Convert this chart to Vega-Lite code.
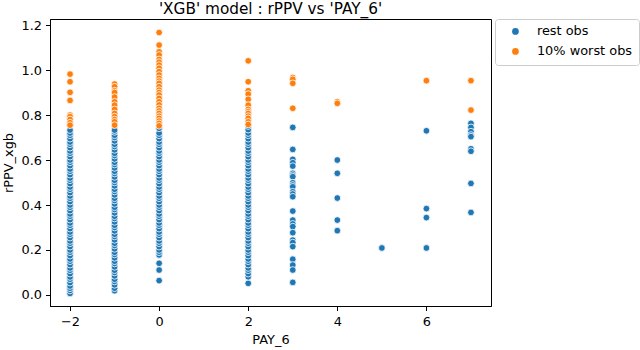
{
  "$schema": "https://vega.github.io/schema/vega-lite/v6.json",
  "autosize": {"type": "none"},
  "width": 441,
  "height": 287,
  "padding": {"left": 50, "top": 19, "right": 149, "bottom": 44},
  "background": "white",
  "title": {"text": "'XGB' model : rPPV vs 'PAY_6'", "fontSize": 15.3, "fontWeight": "normal", "font": "DejaVu Sans", "color": "black", "offset": 1, "anchor": "middle"},
  "data": {"values": [
    {"PAY_6": -2, "rPPV_xgb": 0.007, "group": "rest obs"},
    {"PAY_6": -2, "rPPV_xgb": 0.02, "group": "rest obs"},
    {"PAY_6": -2, "rPPV_xgb": 0.03, "group": "rest obs"},
    {"PAY_6": -2, "rPPV_xgb": 0.04, "group": "rest obs"},
    {"PAY_6": -2, "rPPV_xgb": 0.055, "group": "rest obs"},
    {"PAY_6": -2, "rPPV_xgb": 0.07, "group": "rest obs"},
    {"PAY_6": -2, "rPPV_xgb": 0.08, "group": "rest obs"},
    {"PAY_6": -2, "rPPV_xgb": 0.095, "group": "rest obs"},
    {"PAY_6": -2, "rPPV_xgb": 0.11, "group": "rest obs"},
    {"PAY_6": -2, "rPPV_xgb": 0.12, "group": "rest obs"},
    {"PAY_6": -2, "rPPV_xgb": 0.135, "group": "rest obs"},
    {"PAY_6": -2, "rPPV_xgb": 0.15, "group": "rest obs"},
    {"PAY_6": -2, "rPPV_xgb": 0.16, "group": "rest obs"},
    {"PAY_6": -2, "rPPV_xgb": 0.175, "group": "rest obs"},
    {"PAY_6": -2, "rPPV_xgb": 0.19, "group": "rest obs"},
    {"PAY_6": -2, "rPPV_xgb": 0.2, "group": "rest obs"},
    {"PAY_6": -2, "rPPV_xgb": 0.215, "group": "rest obs"},
    {"PAY_6": -2, "rPPV_xgb": 0.23, "group": "rest obs"},
    {"PAY_6": -2, "rPPV_xgb": 0.24, "group": "rest obs"},
    {"PAY_6": -2, "rPPV_xgb": 0.255, "group": "rest obs"},
    {"PAY_6": -2, "rPPV_xgb": 0.27, "group": "rest obs"},
    {"PAY_6": -2, "rPPV_xgb": 0.28, "group": "rest obs"},
    {"PAY_6": -2, "rPPV_xgb": 0.295, "group": "rest obs"},
    {"PAY_6": -2, "rPPV_xgb": 0.31, "group": "rest obs"},
    {"PAY_6": -2, "rPPV_xgb": 0.32, "group": "rest obs"},
    {"PAY_6": -2, "rPPV_xgb": 0.335, "group": "rest obs"},
    {"PAY_6": -2, "rPPV_xgb": 0.35, "group": "rest obs"},
    {"PAY_6": -2, "rPPV_xgb": 0.36, "group": "rest obs"},
    {"PAY_6": -2, "rPPV_xgb": 0.375, "group": "rest obs"},
    {"PAY_6": -2, "rPPV_xgb": 0.39, "group": "rest obs"},
    {"PAY_6": -2, "rPPV_xgb": 0.4, "group": "rest obs"},
    {"PAY_6": -2, "rPPV_xgb": 0.415, "group": "rest obs"},
    {"PAY_6": -2, "rPPV_xgb": 0.43, "group": "rest obs"},
    {"PAY_6": -2, "rPPV_xgb": 0.44, "group": "rest obs"},
    {"PAY_6": -2, "rPPV_xgb": 0.455, "group": "rest obs"},
    {"PAY_6": -2, "rPPV_xgb": 0.47, "group": "rest obs"},
    {"PAY_6": -2, "rPPV_xgb": 0.48, "group": "rest obs"},
    {"PAY_6": -2, "rPPV_xgb": 0.495, "group": "rest obs"},
    {"PAY_6": -2, "rPPV_xgb": 0.51, "group": "rest obs"},
    {"PAY_6": -2, "rPPV_xgb": 0.52, "group": "rest obs"},
    {"PAY_6": -2, "rPPV_xgb": 0.535, "group": "rest obs"},
    {"PAY_6": -2, "rPPV_xgb": 0.55, "group": "rest obs"},
    {"PAY_6": -2, "rPPV_xgb": 0.56, "group": "rest obs"},
    {"PAY_6": -2, "rPPV_xgb": 0.575, "group": "rest obs"},
    {"PAY_6": -2, "rPPV_xgb": 0.59, "group": "rest obs"},
    {"PAY_6": -2, "rPPV_xgb": 0.6, "group": "rest obs"},
    {"PAY_6": -2, "rPPV_xgb": 0.615, "group": "rest obs"},
    {"PAY_6": -2, "rPPV_xgb": 0.63, "group": "rest obs"},
    {"PAY_6": -2, "rPPV_xgb": 0.64, "group": "rest obs"},
    {"PAY_6": -2, "rPPV_xgb": 0.655, "group": "rest obs"},
    {"PAY_6": -2, "rPPV_xgb": 0.67, "group": "rest obs"},
    {"PAY_6": -2, "rPPV_xgb": 0.68, "group": "rest obs"},
    {"PAY_6": -2, "rPPV_xgb": 0.695, "group": "rest obs"},
    {"PAY_6": -2, "rPPV_xgb": 0.71, "group": "rest obs"},
    {"PAY_6": -2, "rPPV_xgb": 0.72, "group": "rest obs"},
    {"PAY_6": -2, "rPPV_xgb": 0.733, "group": "rest obs"},
    {"PAY_6": -1, "rPPV_xgb": 0.019, "group": "rest obs"},
    {"PAY_6": -1, "rPPV_xgb": 0.03, "group": "rest obs"},
    {"PAY_6": -1, "rPPV_xgb": 0.045, "group": "rest obs"},
    {"PAY_6": -1, "rPPV_xgb": 0.06, "group": "rest obs"},
    {"PAY_6": -1, "rPPV_xgb": 0.07, "group": "rest obs"},
    {"PAY_6": -1, "rPPV_xgb": 0.085, "group": "rest obs"},
    {"PAY_6": -1, "rPPV_xgb": 0.1, "group": "rest obs"},
    {"PAY_6": -1, "rPPV_xgb": 0.11, "group": "rest obs"},
    {"PAY_6": -1, "rPPV_xgb": 0.125, "group": "rest obs"},
    {"PAY_6": -1, "rPPV_xgb": 0.14, "group": "rest obs"},
    {"PAY_6": -1, "rPPV_xgb": 0.15, "group": "rest obs"},
    {"PAY_6": -1, "rPPV_xgb": 0.165, "group": "rest obs"},
    {"PAY_6": -1, "rPPV_xgb": 0.18, "group": "rest obs"},
    {"PAY_6": -1, "rPPV_xgb": 0.19, "group": "rest obs"},
    {"PAY_6": -1, "rPPV_xgb": 0.205, "group": "rest obs"},
    {"PAY_6": -1, "rPPV_xgb": 0.22, "group": "rest obs"},
    {"PAY_6": -1, "rPPV_xgb": 0.23, "group": "rest obs"},
    {"PAY_6": -1, "rPPV_xgb": 0.245, "group": "rest obs"},
    {"PAY_6": -1, "rPPV_xgb": 0.26, "group": "rest obs"},
    {"PAY_6": -1, "rPPV_xgb": 0.27, "group": "rest obs"},
    {"PAY_6": -1, "rPPV_xgb": 0.285, "group": "rest obs"},
    {"PAY_6": -1, "rPPV_xgb": 0.3, "group": "rest obs"},
    {"PAY_6": -1, "rPPV_xgb": 0.31, "group": "rest obs"},
    {"PAY_6": -1, "rPPV_xgb": 0.325, "group": "rest obs"},
    {"PAY_6": -1, "rPPV_xgb": 0.34, "group": "rest obs"},
    {"PAY_6": -1, "rPPV_xgb": 0.35, "group": "rest obs"},
    {"PAY_6": -1, "rPPV_xgb": 0.365, "group": "rest obs"},
    {"PAY_6": -1, "rPPV_xgb": 0.38, "group": "rest obs"},
    {"PAY_6": -1, "rPPV_xgb": 0.39, "group": "rest obs"},
    {"PAY_6": -1, "rPPV_xgb": 0.405, "group": "rest obs"},
    {"PAY_6": -1, "rPPV_xgb": 0.42, "group": "rest obs"},
    {"PAY_6": -1, "rPPV_xgb": 0.43, "group": "rest obs"},
    {"PAY_6": -1, "rPPV_xgb": 0.445, "group": "rest obs"},
    {"PAY_6": -1, "rPPV_xgb": 0.46, "group": "rest obs"},
    {"PAY_6": -1, "rPPV_xgb": 0.47, "group": "rest obs"},
    {"PAY_6": -1, "rPPV_xgb": 0.485, "group": "rest obs"},
    {"PAY_6": -1, "rPPV_xgb": 0.5, "group": "rest obs"},
    {"PAY_6": -1, "rPPV_xgb": 0.51, "group": "rest obs"},
    {"PAY_6": -1, "rPPV_xgb": 0.525, "group": "rest obs"},
    {"PAY_6": -1, "rPPV_xgb": 0.54, "group": "rest obs"},
    {"PAY_6": -1, "rPPV_xgb": 0.55, "group": "rest obs"},
    {"PAY_6": -1, "rPPV_xgb": 0.565, "group": "rest obs"},
    {"PAY_6": -1, "rPPV_xgb": 0.58, "group": "rest obs"},
    {"PAY_6": -1, "rPPV_xgb": 0.59, "group": "rest obs"},
    {"PAY_6": -1, "rPPV_xgb": 0.605, "group": "rest obs"},
    {"PAY_6": -1, "rPPV_xgb": 0.62, "group": "rest obs"},
    {"PAY_6": -1, "rPPV_xgb": 0.63, "group": "rest obs"},
    {"PAY_6": -1, "rPPV_xgb": 0.645, "group": "rest obs"},
    {"PAY_6": -1, "rPPV_xgb": 0.66, "group": "rest obs"},
    {"PAY_6": -1, "rPPV_xgb": 0.67, "group": "rest obs"},
    {"PAY_6": -1, "rPPV_xgb": 0.685, "group": "rest obs"},
    {"PAY_6": -1, "rPPV_xgb": 0.7, "group": "rest obs"},
    {"PAY_6": -1, "rPPV_xgb": 0.71, "group": "rest obs"},
    {"PAY_6": -1, "rPPV_xgb": 0.725, "group": "rest obs"},
    {"PAY_6": -1, "rPPV_xgb": 0.733, "group": "rest obs"},
    {"PAY_6": 0, "rPPV_xgb": 0.064, "group": "rest obs"},
    {"PAY_6": 0, "rPPV_xgb": 0.111, "group": "rest obs"},
    {"PAY_6": 0, "rPPV_xgb": 0.141, "group": "rest obs"},
    {"PAY_6": 0, "rPPV_xgb": 0.178, "group": "rest obs"},
    {"PAY_6": 0, "rPPV_xgb": 0.19, "group": "rest obs"},
    {"PAY_6": 0, "rPPV_xgb": 0.2, "group": "rest obs"},
    {"PAY_6": 0, "rPPV_xgb": 0.215, "group": "rest obs"},
    {"PAY_6": 0, "rPPV_xgb": 0.23, "group": "rest obs"},
    {"PAY_6": 0, "rPPV_xgb": 0.24, "group": "rest obs"},
    {"PAY_6": 0, "rPPV_xgb": 0.255, "group": "rest obs"},
    {"PAY_6": 0, "rPPV_xgb": 0.27, "group": "rest obs"},
    {"PAY_6": 0, "rPPV_xgb": 0.28, "group": "rest obs"},
    {"PAY_6": 0, "rPPV_xgb": 0.295, "group": "rest obs"},
    {"PAY_6": 0, "rPPV_xgb": 0.31, "group": "rest obs"},
    {"PAY_6": 0, "rPPV_xgb": 0.32, "group": "rest obs"},
    {"PAY_6": 0, "rPPV_xgb": 0.335, "group": "rest obs"},
    {"PAY_6": 0, "rPPV_xgb": 0.35, "group": "rest obs"},
    {"PAY_6": 0, "rPPV_xgb": 0.36, "group": "rest obs"},
    {"PAY_6": 0, "rPPV_xgb": 0.375, "group": "rest obs"},
    {"PAY_6": 0, "rPPV_xgb": 0.39, "group": "rest obs"},
    {"PAY_6": 0, "rPPV_xgb": 0.4, "group": "rest obs"},
    {"PAY_6": 0, "rPPV_xgb": 0.415, "group": "rest obs"},
    {"PAY_6": 0, "rPPV_xgb": 0.43, "group": "rest obs"},
    {"PAY_6": 0, "rPPV_xgb": 0.44, "group": "rest obs"},
    {"PAY_6": 0, "rPPV_xgb": 0.455, "group": "rest obs"},
    {"PAY_6": 0, "rPPV_xgb": 0.47, "group": "rest obs"},
    {"PAY_6": 0, "rPPV_xgb": 0.48, "group": "rest obs"},
    {"PAY_6": 0, "rPPV_xgb": 0.495, "group": "rest obs"},
    {"PAY_6": 0, "rPPV_xgb": 0.51, "group": "rest obs"},
    {"PAY_6": 0, "rPPV_xgb": 0.52, "group": "rest obs"},
    {"PAY_6": 0, "rPPV_xgb": 0.535, "group": "rest obs"},
    {"PAY_6": 0, "rPPV_xgb": 0.55, "group": "rest obs"},
    {"PAY_6": 0, "rPPV_xgb": 0.56, "group": "rest obs"},
    {"PAY_6": 0, "rPPV_xgb": 0.575, "group": "rest obs"},
    {"PAY_6": 0, "rPPV_xgb": 0.59, "group": "rest obs"},
    {"PAY_6": 0, "rPPV_xgb": 0.6, "group": "rest obs"},
    {"PAY_6": 0, "rPPV_xgb": 0.615, "group": "rest obs"},
    {"PAY_6": 0, "rPPV_xgb": 0.63, "group": "rest obs"},
    {"PAY_6": 0, "rPPV_xgb": 0.64, "group": "rest obs"},
    {"PAY_6": 0, "rPPV_xgb": 0.655, "group": "rest obs"},
    {"PAY_6": 0, "rPPV_xgb": 0.67, "group": "rest obs"},
    {"PAY_6": 0, "rPPV_xgb": 0.68, "group": "rest obs"},
    {"PAY_6": 0, "rPPV_xgb": 0.695, "group": "rest obs"},
    {"PAY_6": 0, "rPPV_xgb": 0.71, "group": "rest obs"},
    {"PAY_6": 0, "rPPV_xgb": 0.72, "group": "rest obs"},
    {"PAY_6": 0, "rPPV_xgb": 0.741, "group": "rest obs"},
    {"PAY_6": 2, "rPPV_xgb": 0.052, "group": "rest obs"},
    {"PAY_6": 2, "rPPV_xgb": 0.081, "group": "rest obs"},
    {"PAY_6": 2, "rPPV_xgb": 0.095, "group": "rest obs"},
    {"PAY_6": 2, "rPPV_xgb": 0.11, "group": "rest obs"},
    {"PAY_6": 2, "rPPV_xgb": 0.12, "group": "rest obs"},
    {"PAY_6": 2, "rPPV_xgb": 0.135, "group": "rest obs"},
    {"PAY_6": 2, "rPPV_xgb": 0.15, "group": "rest obs"},
    {"PAY_6": 2, "rPPV_xgb": 0.16, "group": "rest obs"},
    {"PAY_6": 2, "rPPV_xgb": 0.175, "group": "rest obs"},
    {"PAY_6": 2, "rPPV_xgb": 0.19, "group": "rest obs"},
    {"PAY_6": 2, "rPPV_xgb": 0.2, "group": "rest obs"},
    {"PAY_6": 2, "rPPV_xgb": 0.215, "group": "rest obs"},
    {"PAY_6": 2, "rPPV_xgb": 0.23, "group": "rest obs"},
    {"PAY_6": 2, "rPPV_xgb": 0.24, "group": "rest obs"},
    {"PAY_6": 2, "rPPV_xgb": 0.255, "group": "rest obs"},
    {"PAY_6": 2, "rPPV_xgb": 0.27, "group": "rest obs"},
    {"PAY_6": 2, "rPPV_xgb": 0.28, "group": "rest obs"},
    {"PAY_6": 2, "rPPV_xgb": 0.295, "group": "rest obs"},
    {"PAY_6": 2, "rPPV_xgb": 0.31, "group": "rest obs"},
    {"PAY_6": 2, "rPPV_xgb": 0.32, "group": "rest obs"},
    {"PAY_6": 2, "rPPV_xgb": 0.335, "group": "rest obs"},
    {"PAY_6": 2, "rPPV_xgb": 0.35, "group": "rest obs"},
    {"PAY_6": 2, "rPPV_xgb": 0.36, "group": "rest obs"},
    {"PAY_6": 2, "rPPV_xgb": 0.375, "group": "rest obs"},
    {"PAY_6": 2, "rPPV_xgb": 0.39, "group": "rest obs"},
    {"PAY_6": 2, "rPPV_xgb": 0.4, "group": "rest obs"},
    {"PAY_6": 2, "rPPV_xgb": 0.415, "group": "rest obs"},
    {"PAY_6": 2, "rPPV_xgb": 0.43, "group": "rest obs"},
    {"PAY_6": 2, "rPPV_xgb": 0.44, "group": "rest obs"},
    {"PAY_6": 2, "rPPV_xgb": 0.455, "group": "rest obs"},
    {"PAY_6": 2, "rPPV_xgb": 0.47, "group": "rest obs"},
    {"PAY_6": 2, "rPPV_xgb": 0.48, "group": "rest obs"},
    {"PAY_6": 2, "rPPV_xgb": 0.495, "group": "rest obs"},
    {"PAY_6": 2, "rPPV_xgb": 0.51, "group": "rest obs"},
    {"PAY_6": 2, "rPPV_xgb": 0.52, "group": "rest obs"},
    {"PAY_6": 2, "rPPV_xgb": 0.535, "group": "rest obs"},
    {"PAY_6": 2, "rPPV_xgb": 0.55, "group": "rest obs"},
    {"PAY_6": 2, "rPPV_xgb": 0.56, "group": "rest obs"},
    {"PAY_6": 2, "rPPV_xgb": 0.575, "group": "rest obs"},
    {"PAY_6": 2, "rPPV_xgb": 0.59, "group": "rest obs"},
    {"PAY_6": 2, "rPPV_xgb": 0.6, "group": "rest obs"},
    {"PAY_6": 2, "rPPV_xgb": 0.615, "group": "rest obs"},
    {"PAY_6": 2, "rPPV_xgb": 0.63, "group": "rest obs"},
    {"PAY_6": 2, "rPPV_xgb": 0.64, "group": "rest obs"},
    {"PAY_6": 2, "rPPV_xgb": 0.655, "group": "rest obs"},
    {"PAY_6": 2, "rPPV_xgb": 0.67, "group": "rest obs"},
    {"PAY_6": 2, "rPPV_xgb": 0.68, "group": "rest obs"},
    {"PAY_6": 2, "rPPV_xgb": 0.695, "group": "rest obs"},
    {"PAY_6": 2, "rPPV_xgb": 0.71, "group": "rest obs"},
    {"PAY_6": 2, "rPPV_xgb": 0.72, "group": "rest obs"},
    {"PAY_6": 2, "rPPV_xgb": 0.735, "group": "rest obs"},
    {"PAY_6": 2, "rPPV_xgb": 0.751, "group": "rest obs"},
    {"PAY_6": 3, "rPPV_xgb": 0.745, "group": "rest obs"},
    {"PAY_6": 3, "rPPV_xgb": 0.647, "group": "rest obs"},
    {"PAY_6": 3, "rPPV_xgb": 0.603, "group": "rest obs"},
    {"PAY_6": 3, "rPPV_xgb": 0.588, "group": "rest obs"},
    {"PAY_6": 3, "rPPV_xgb": 0.573, "group": "rest obs"},
    {"PAY_6": 3, "rPPV_xgb": 0.541, "group": "rest obs"},
    {"PAY_6": 3, "rPPV_xgb": 0.533, "group": "rest obs"},
    {"PAY_6": 3, "rPPV_xgb": 0.526, "group": "rest obs"},
    {"PAY_6": 3, "rPPV_xgb": 0.499, "group": "rest obs"},
    {"PAY_6": 3, "rPPV_xgb": 0.489, "group": "rest obs"},
    {"PAY_6": 3, "rPPV_xgb": 0.481, "group": "rest obs"},
    {"PAY_6": 3, "rPPV_xgb": 0.459, "group": "rest obs"},
    {"PAY_6": 3, "rPPV_xgb": 0.449, "group": "rest obs"},
    {"PAY_6": 3, "rPPV_xgb": 0.437, "group": "rest obs"},
    {"PAY_6": 3, "rPPV_xgb": 0.373, "group": "rest obs"},
    {"PAY_6": 3, "rPPV_xgb": 0.333, "group": "rest obs"},
    {"PAY_6": 3, "rPPV_xgb": 0.316, "group": "rest obs"},
    {"PAY_6": 3, "rPPV_xgb": 0.304, "group": "rest obs"},
    {"PAY_6": 3, "rPPV_xgb": 0.277, "group": "rest obs"},
    {"PAY_6": 3, "rPPV_xgb": 0.244, "group": "rest obs"},
    {"PAY_6": 3, "rPPV_xgb": 0.233, "group": "rest obs"},
    {"PAY_6": 3, "rPPV_xgb": 0.215, "group": "rest obs"},
    {"PAY_6": 3, "rPPV_xgb": 0.159, "group": "rest obs"},
    {"PAY_6": 3, "rPPV_xgb": 0.133, "group": "rest obs"},
    {"PAY_6": 3, "rPPV_xgb": 0.111, "group": "rest obs"},
    {"PAY_6": 3, "rPPV_xgb": 0.056, "group": "rest obs"},
    {"PAY_6": 4, "rPPV_xgb": 0.6, "group": "rest obs"},
    {"PAY_6": 4, "rPPV_xgb": 0.541, "group": "rest obs"},
    {"PAY_6": 4, "rPPV_xgb": 0.431, "group": "rest obs"},
    {"PAY_6": 4, "rPPV_xgb": 0.333, "group": "rest obs"},
    {"PAY_6": 4, "rPPV_xgb": 0.286, "group": "rest obs"},
    {"PAY_6": 5, "rPPV_xgb": 0.209, "group": "rest obs"},
    {"PAY_6": 6, "rPPV_xgb": 0.73, "group": "rest obs"},
    {"PAY_6": 6, "rPPV_xgb": 0.384, "group": "rest obs"},
    {"PAY_6": 6, "rPPV_xgb": 0.344, "group": "rest obs"},
    {"PAY_6": 6, "rPPV_xgb": 0.209, "group": "rest obs"},
    {"PAY_6": 7, "rPPV_xgb": 0.763, "group": "rest obs"},
    {"PAY_6": 7, "rPPV_xgb": 0.745, "group": "rest obs"},
    {"PAY_6": 7, "rPPV_xgb": 0.726, "group": "rest obs"},
    {"PAY_6": 7, "rPPV_xgb": 0.711, "group": "rest obs"},
    {"PAY_6": 7, "rPPV_xgb": 0.704, "group": "rest obs"},
    {"PAY_6": 7, "rPPV_xgb": 0.65, "group": "rest obs"},
    {"PAY_6": 7, "rPPV_xgb": 0.639, "group": "rest obs"},
    {"PAY_6": 7, "rPPV_xgb": 0.496, "group": "rest obs"},
    {"PAY_6": 7, "rPPV_xgb": 0.367, "group": "rest obs"},
    {"PAY_6": -2, "rPPV_xgb": 0.982, "group": "10% worst obs"},
    {"PAY_6": -2, "rPPV_xgb": 0.948, "group": "10% worst obs"},
    {"PAY_6": -2, "rPPV_xgb": 0.901, "group": "10% worst obs"},
    {"PAY_6": -2, "rPPV_xgb": 0.865, "group": "10% worst obs"},
    {"PAY_6": -2, "rPPV_xgb": 0.8, "group": "10% worst obs"},
    {"PAY_6": -2, "rPPV_xgb": 0.793, "group": "10% worst obs"},
    {"PAY_6": -2, "rPPV_xgb": 0.78, "group": "10% worst obs"},
    {"PAY_6": -2, "rPPV_xgb": 0.766, "group": "10% worst obs"},
    {"PAY_6": -2, "rPPV_xgb": 0.755, "group": "10% worst obs"},
    {"PAY_6": -1, "rPPV_xgb": 0.938, "group": "10% worst obs"},
    {"PAY_6": -1, "rPPV_xgb": 0.926, "group": "10% worst obs"},
    {"PAY_6": -1, "rPPV_xgb": 0.908, "group": "10% worst obs"},
    {"PAY_6": -1, "rPPV_xgb": 0.9, "group": "10% worst obs"},
    {"PAY_6": -1, "rPPV_xgb": 0.88, "group": "10% worst obs"},
    {"PAY_6": -1, "rPPV_xgb": 0.859, "group": "10% worst obs"},
    {"PAY_6": -1, "rPPV_xgb": 0.844, "group": "10% worst obs"},
    {"PAY_6": -1, "rPPV_xgb": 0.825, "group": "10% worst obs"},
    {"PAY_6": -1, "rPPV_xgb": 0.807, "group": "10% worst obs"},
    {"PAY_6": -1, "rPPV_xgb": 0.793, "group": "10% worst obs"},
    {"PAY_6": -1, "rPPV_xgb": 0.78, "group": "10% worst obs"},
    {"PAY_6": -1, "rPPV_xgb": 0.77, "group": "10% worst obs"},
    {"PAY_6": -1, "rPPV_xgb": 0.755, "group": "10% worst obs"},
    {"PAY_6": 0, "rPPV_xgb": 1.167, "group": "10% worst obs"},
    {"PAY_6": 0, "rPPV_xgb": 1.111, "group": "10% worst obs"},
    {"PAY_6": 0, "rPPV_xgb": 1.081, "group": "10% worst obs"},
    {"PAY_6": 0, "rPPV_xgb": 1.067, "group": "10% worst obs"},
    {"PAY_6": 0, "rPPV_xgb": 1.047, "group": "10% worst obs"},
    {"PAY_6": 0, "rPPV_xgb": 1.035, "group": "10% worst obs"},
    {"PAY_6": 0, "rPPV_xgb": 1.022, "group": "10% worst obs"},
    {"PAY_6": 0, "rPPV_xgb": 1.008, "group": "10% worst obs"},
    {"PAY_6": 0, "rPPV_xgb": 0.993, "group": "10% worst obs"},
    {"PAY_6": 0, "rPPV_xgb": 0.978, "group": "10% worst obs"},
    {"PAY_6": 0, "rPPV_xgb": 0.963, "group": "10% worst obs"},
    {"PAY_6": 0, "rPPV_xgb": 0.951, "group": "10% worst obs"},
    {"PAY_6": 0, "rPPV_xgb": 0.941, "group": "10% worst obs"},
    {"PAY_6": 0, "rPPV_xgb": 0.926, "group": "10% worst obs"},
    {"PAY_6": 0, "rPPV_xgb": 0.911, "group": "10% worst obs"},
    {"PAY_6": 0, "rPPV_xgb": 0.9, "group": "10% worst obs"},
    {"PAY_6": 0, "rPPV_xgb": 0.889, "group": "10% worst obs"},
    {"PAY_6": 0, "rPPV_xgb": 0.874, "group": "10% worst obs"},
    {"PAY_6": 0, "rPPV_xgb": 0.859, "group": "10% worst obs"},
    {"PAY_6": 0, "rPPV_xgb": 0.845, "group": "10% worst obs"},
    {"PAY_6": 0, "rPPV_xgb": 0.83, "group": "10% worst obs"},
    {"PAY_6": 0, "rPPV_xgb": 0.818, "group": "10% worst obs"},
    {"PAY_6": 0, "rPPV_xgb": 0.807, "group": "10% worst obs"},
    {"PAY_6": 0, "rPPV_xgb": 0.795, "group": "10% worst obs"},
    {"PAY_6": 0, "rPPV_xgb": 0.785, "group": "10% worst obs"},
    {"PAY_6": 0, "rPPV_xgb": 0.773, "group": "10% worst obs"},
    {"PAY_6": 0, "rPPV_xgb": 0.763, "group": "10% worst obs"},
    {"PAY_6": 0, "rPPV_xgb": 0.752, "group": "10% worst obs"},
    {"PAY_6": 2, "rPPV_xgb": 1.041, "group": "10% worst obs"},
    {"PAY_6": 2, "rPPV_xgb": 0.948, "group": "10% worst obs"},
    {"PAY_6": 2, "rPPV_xgb": 0.908, "group": "10% worst obs"},
    {"PAY_6": 2, "rPPV_xgb": 0.893, "group": "10% worst obs"},
    {"PAY_6": 2, "rPPV_xgb": 0.87, "group": "10% worst obs"},
    {"PAY_6": 2, "rPPV_xgb": 0.844, "group": "10% worst obs"},
    {"PAY_6": 2, "rPPV_xgb": 0.825, "group": "10% worst obs"},
    {"PAY_6": 2, "rPPV_xgb": 0.815, "group": "10% worst obs"},
    {"PAY_6": 2, "rPPV_xgb": 0.807, "group": "10% worst obs"},
    {"PAY_6": 2, "rPPV_xgb": 0.795, "group": "10% worst obs"},
    {"PAY_6": 2, "rPPV_xgb": 0.785, "group": "10% worst obs"},
    {"PAY_6": 2, "rPPV_xgb": 0.77, "group": "10% worst obs"},
    {"PAY_6": 2, "rPPV_xgb": 0.758, "group": "10% worst obs"},
    {"PAY_6": 3, "rPPV_xgb": 0.967, "group": "10% worst obs"},
    {"PAY_6": 3, "rPPV_xgb": 0.959, "group": "10% worst obs"},
    {"PAY_6": 3, "rPPV_xgb": 0.941, "group": "10% worst obs"},
    {"PAY_6": 3, "rPPV_xgb": 0.83, "group": "10% worst obs"},
    {"PAY_6": 4, "rPPV_xgb": 0.859, "group": "10% worst obs"},
    {"PAY_6": 4, "rPPV_xgb": 0.852, "group": "10% worst obs"},
    {"PAY_6": 6, "rPPV_xgb": 0.953, "group": "10% worst obs"},
    {"PAY_6": 7, "rPPV_xgb": 0.953, "group": "10% worst obs"},
    {"PAY_6": 7, "rPPV_xgb": 0.822, "group": "10% worst obs"}
  ]},
  "mark": {"type": "point", "filled": true, "size": 45, "stroke": "white", "strokeWidth": 0.8, "opacity": 1},
  "encoding": {
    "x": {"field": "PAY_6", "type": "quantitative", "title": "PAY_6",
      "scale": {"domain": [-2.45, 7.45], "nice": false, "zero": false},
      "axis": {"values": [-2, 0, 2, 4, 6], "format": "d", "labelPadding": 5, "titlePadding": 5}},
    "y": {"field": "rPPV_xgb", "type": "quantitative", "title": "rPPV_xgb",
      "scale": {"domain": [-0.049, 1.227], "nice": false, "zero": false},
      "axis": {"values": [0, 0.2, 0.4, 0.6, 0.8, 1.0, 1.2], "format": ".1f", "labelPadding": 4, "titlePadding": 5}},
    "color": {"field": "group", "type": "nominal",
      "scale": {"domain": ["rest obs", "10% worst obs"], "range": ["#1f77b4", "#ff7f0e"]},
      "legend": {"title": null, "orient": "none", "legendX": 445, "legendY": 0}}
  },
  "config": {
    "font": "DejaVu Sans",
    "view": {"stroke": "black", "strokeWidth": 1},
    "axis": {"grid": false, "domainColor": "black", "tickColor": "black", "labelColor": "black", "titleColor": "black",
      "labelFontSize": 12.9, "titleFontSize": 12.9, "titleFontWeight": "normal", "tickSize": 4.5,
      "labelFont": "DejaVu Sans", "titleFont": "DejaVu Sans", "labelFlush": false},
    "legend": {"strokeColor": "#cccccc", "fillColor": "white", "cornerRadius": 3, "padding": 6,
      "labelFontSize": 12.9, "labelFont": "DejaVu Sans", "labelColor": "black",
      "symbolSize": 45, "symbolType": "circle", "symbolStrokeWidth": 0, "symbolOffset": 8, "labelOffset": 15, "rowPadding": 6}
  }
}
